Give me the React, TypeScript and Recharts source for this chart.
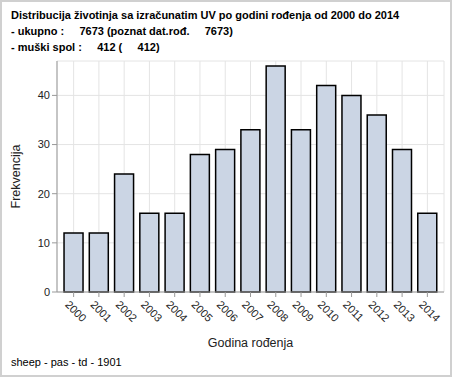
import { BarChart, Bar, XAxis, YAxis, CartesianGrid } from 'recharts'

const years = ['2000', '2001', '2002', '2003', '2004', '2005', '2006', '2007', '2008', '2009', '2010', '2011', '2012', '2013', '2014']
const counts = [12, 12, 24, 16, 16, 28, 29, 33, 46, 33, 42, 40, 36, 29, 16]
const yTicks = [0, 10, 20, 30, 40]

const titleLines = [
  'Distribucija životinja sa izračunatim UV po godini rođenja od 2000 do 2014',
  '- ukupno :     7673 (poznat dat.rođ.     7673)',
  '- muški spol :     412 (     412)',
]
const footer = 'sheep - pas - td - 1901'

const data = years.map((y, i) => ({ year: y, count: counts[i] }))

const font = '"Liberation Sans", Arial, sans-serif'

const XTick = ({ x, y, payload }: any) => (
  <text x={x} y={y} transform={`rotate(45 ${x} ${y})`} dx={-2} dy={11} fontSize={11} fill="#222" fontFamily={font} textAnchor="start">
    {payload.value}
  </text>
)

export default function App() {
  return (
    <div style={{ position: 'absolute', left: 0, top: 0, width: 453, height: 378, background: '#fff', fontFamily: font }}>
      <div style={{ position: 'absolute', left: 0, top: 0, width: 452, height: 377, border: '2px solid #d0d0d0', boxSizing: 'border-box' }} />
      {titleLines.map((t, i) => (
        <div key={i} style={{ position: 'absolute', left: 11, top: 9 + i * 16, fontSize: 11, fontWeight: 'bold', whiteSpace: 'pre', color: '#000' }}>{t}</div>
      ))}
      <BarChart width={454} height={378} data={data} margin={{ top: 61, right: 10, left: 0, bottom: 0 }} barCategoryGap="12%">
        <CartesianGrid stroke="#e4e4e4" />
        <XAxis dataKey="year" height={86} padding={{ left: 4, right: 4 }} tick={<XTick />} tickSize={5} stroke="#999" interval={0}
          label={{ value: 'Godina rođenja', position: 'insideBottom', offset: 31, fontSize: 12.5, fill: '#222', fontFamily: font }} />
        <XAxis xAxisId="top" dataKey="year" orientation="top" height={0} tick={false} tickLine={false} stroke="#999" />
        <YAxis domain={[0, 47]} ticks={yTicks} width={57} tickSize={5} stroke="#999" tick={{ fontSize: 11, fill: '#222', fontFamily: font }}
          label={{ value: 'Frekvencija', angle: -90, position: 'insideLeft', offset: 16, fontSize: 12.5, fill: '#222', fontFamily: font, style: { textAnchor: 'middle' } }} />
        <YAxis yAxisId="right" orientation="right" width={0} tick={false} tickLine={false} stroke="#999" />
        <Bar dataKey="count" fill="#cbd5e4" stroke="#000" strokeWidth={1.5} isAnimationActive={false} />
      </BarChart>
      <div style={{ position: 'absolute', left: 11, top: 356, fontSize: 11, color: '#000' }}>{footer}</div>
    </div>
  )
}
